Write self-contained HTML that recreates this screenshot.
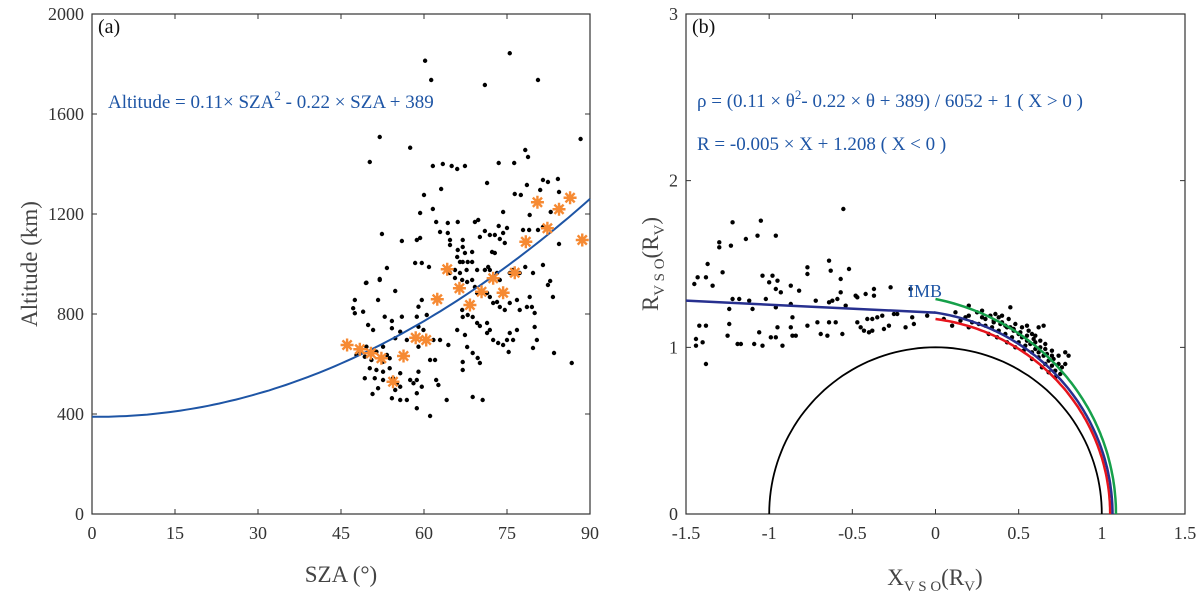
<!DOCTYPE html>
<html><head><meta charset="utf-8"><style>
body{margin:0;background:#fff}
svg{display:block;font-family:"Liberation Serif",serif}
</style></head><body>
<svg id="chart" width="1200" height="600" viewBox="0 0 1200 600">
<g id="pa"></g>
<g id="pb"></g>
</svg>
<script>
// Panel (a) data: [SZA deg, altitude km]
const aDots = [[60.2,1813],[61.3,1736],[75.5,1843],[80.6,1736],[71.0,1716],[52.0,1508],[57.5,1465],[50.2,1408],[88.3,1500],[78.3,1456],[78.8,1428],
[61.6,1392],[63.4,1400],[65,1392],[66,1380],[67.4,1392],[73.5,1404],[76.3,1404],[60,1276],[63.1,1300],[71.4,1324],[78.6,1316],[81,1296],[81.5,1336],[82.4,1328],[84.2,1340],[84.4,1288],[76.4,1280],[77.5,1276],
[59.3,1204],[61.6,1220],[74.3,1208],[79.1,1196],[82.9,1208],[84.6,1224],[84.4,1080],[86.7,604],[83.5,644],
[62.2,1168],[64.3,1164],[66.1,1168],[69.2,1168],[69.8,1176],[71,1132],[71.9,1116],[72.8,1116],[73.5,1152],[74.3,1124],[75,1144],
[52.4,1120],[56,1092],[58.7,1096],[59.3,1104],[62.9,1128],[64.3,1124],[64.7,1096],[64.7,1076],[67,1096],[67,1068],[77.9,1136],[79,1136],[80.6,1136],[81.5,1148],
[66.1,1056],[67.4,1044],[68.7,1048],[66,1028],[66.5,1008],[67,1008],[67.9,1008],[68.7,1008],[65.6,976],[67.7,976],[69.6,976],[72.3,1048],[72.8,1044],[73.7,1100],[74.6,1084],[70.1,1108],
[58.4,1004],[59.6,1004],[60.9,988],[53.3,984],[52,940],[49.5,924],[54.8,892],
[71,976],[71.6,988],[71.9,976],[73.2,964],[73.7,936],[75.5,964],[76.1,976],[77.3,964],[78.3,988],[79.7,964],[81.5,996],[82.4,916],[82.8,932],[83.3,868],[79.1,868],[79.5,828],[80,804],[80,748],[80.4,696],[79.7,664],
[64.7,964],[65.6,944],[66.5,964],[66.9,936],[67.8,928],[68.7,936],[69.2,908],[69.6,884],[70.5,884],[71.4,884],[71.9,868],[72.5,844],[73.2,848],[73.7,828],[74.6,816],[75.5,844],[76.8,856],[77.3,816],[78.6,828],
[66.9,816],[67,788],[67.9,796],[68.8,788],[69.6,764],[70.1,752],[71.4,764],[71.9,736],[71.4,724],[72.5,696],[73.4,684],[74.3,676],[75,696],[75.5,724],[76.1,696],[76.8,736],[75.3,648],
[66,736],[67.4,716],[67.8,668],[67,608],[68.8,644],[69.7,624],[70.1,604],[67,576],[68.8,468],[70.6,456],[64.1,456],[61.1,392],[62.2,536],[62.6,516],
[47.2,823],[47.5,803],[49.0,809],[47.5,856],[49.6,925],[51.7,856],[52.0,936],[52.9,789],[49.9,756],[50.8,736],[54.2,772],[54.2,743],[55.7,729],[56.0,789],[54.8,703],[58.7,789],[60.5,796],[59.0,829],[59.6,856],[59.0,749],[59.9,736],[61.7,696],[62.9,696],[61.1,616],[62.0,616],[64.4,676],[59.0,669],[56.9,696],[52.6,669],[51.4,649],[53.3,636],[49.6,669],[48.4,649],[49.3,629],[47.8,636],[50.5,616],[52.6,609],[53.8,623],[51.4,576],[52.6,569],[50.2,583],[51.1,543],[52.6,536],[53.8,583],[54.4,543],[55.1,523],[55.7,509],[54.8,496],[55.7,456],[54.2,463],[56.9,456],[58.7,483],[58.1,523],[58.7,536],[57.5,536],[59.6,509],[51.7,503],[50.7,480],[49.3,543],[55.7,563],[59.0,569],[58.7,423]];
const aStars = [[46.1,676],[48.4,659],[50.4,643],[52.3,623],[54.4,529],[56.3,632],[58.5,705],[60.4,696],[62.4,859],[64.2,979],[66.4,903],[68.3,836],[70.4,889],[72.5,943],[74.3,885],[76.4,965],[78.4,1089],[80.5,1247],[82.3,1143],[84.4,1219],[86.4,1265],[88.6,1096]];
const aXTicks = [0,15,30,45,60,75,90];
const aYTicks = [0,400,800,1200,1600,2000];
const fitCoef = [0.11,-0.22,389];
// Panel (b) data: [X, R]
const bDots = [[-0.554,1.83],[-1.05,1.76],[-1.14,1.65],[-0.96,1.67],[-1.30,1.60],[-1.23,1.61],[-1.28,1.45],[-1.37,1.50],[-1.45,1.38],[-1.43,1.42],[-1.38,1.42],[-1.34,1.37],[-1.04,1.43],[-0.98,1.43],[-1.00,1.39],[-0.95,1.40],[-0.96,1.35],[-0.93,1.33],[-0.87,1.37],[-0.82,1.34],[-0.77,1.48],[-0.77,1.44],[-0.64,1.52],[-0.63,1.46],[-0.52,1.47],[-0.57,1.41],[-0.57,1.33],
[-1.22,1.29],[-1.18,1.29],[-1.12,1.28],[-1.24,1.23],[-1.10,1.23],[-1.02,1.29],[-0.96,1.24],[-0.87,1.26],[-0.86,1.18],[-0.77,1.13],[-0.72,1.28],[-0.71,1.15],[-0.64,1.15],[-0.64,1.27],[-0.62,1.28],[-0.59,1.29],[-0.54,1.25],[-0.48,1.31],[-0.47,1.30],[-0.42,1.32],[-0.37,1.35],[-0.37,1.31],[-0.27,1.36],[-0.15,1.35],
[-1.42,1.13],[-1.38,1.13],[-1.44,1.05],[-1.44,1.01],[-1.40,1.03],[-1.38,0.90],[-1.25,1.07],[-1.24,1.14],[-1.19,1.02],[-1.17,1.02],[-1.09,1.02],[-1.04,1.01],[-1.06,1.09],[-0.99,1.06],[-0.96,1.06],[-0.95,1.12],[-0.92,1.01],[-0.87,1.12],[-0.86,1.07],[-0.84,1.07],[-0.69,1.08],[-0.65,1.07],[-0.60,1.15],[-0.56,1.08],[-0.47,1.15],[-0.45,1.12],[-0.43,1.10],[-0.40,1.09],[-0.38,1.10],[-0.41,1.17],[-0.38,1.17],[-0.35,1.18],[-0.32,1.19],[-0.31,1.11],[-0.28,1.13],[-0.25,1.20],[-0.23,1.20],[-0.18,1.12],[-0.13,1.14],[-0.14,1.18],[-0.05,1.19],[-1.22,1.75],[-1.07,1.67],[-1.30,1.63],
[0.05,1.17],[0.12,1.21],[0.2,1.19],[0.25,1.21],[0.28,1.22],[0.3,1.17],[0.33,1.19],[0.35,1.16],[0.38,1.18],[0.4,1.15],[0.42,1.13],[0.45,1.12],[0.47,1.10],[0.5,1.08],[0.52,1.06],[0.55,1.04],[0.57,1.02],[0.6,0.99],[0.62,0.97],[0.65,0.95],[0.68,0.92],[0.7,0.89],[0.72,0.86],[0.75,0.84],[0.22,1.15],[0.26,1.14],[0.3,1.13],[0.34,1.12],[0.38,1.10],[0.42,1.08],[0.46,1.06],[0.5,1.03],[0.54,1.01],[0.58,0.97],[0.62,0.94],[0.66,0.9],[0.15,1.16],[0.18,1.18],[0.28,1.18],[0.36,1.20],[0.4,1.19],[0.44,1.17],[0.48,1.14],[0.52,1.12],[0.56,1.10],[0.6,1.07],[0.63,1.04],[0.66,1.02],[0.7,0.98],[0.74,0.95],[0.78,0.9],[0.8,0.95],[0.78,0.97],[0.55,1.13],[0.62,1.12],[0.65,1.13],[0.45,1.24],[0.2,1.25],[0.1,1.13],[0.2,1.12],[0.32,1.08],[0.37,1.06],[0.43,1.03],[0.48,1.0],[0.53,0.98],[0.58,0.93],[0.64,0.88],[0.68,0.85],[0.72,0.82],[0.76,0.88],[0.35,1.15],[0.39,1.14],[0.43,1.12],[0.47,1.11],[0.51,1.09],[0.55,1.07],[0.59,1.05],[0.63,1.0],[0.67,0.96],[0.71,0.93],[0.74,0.9],[0.58,1.08],[0.6,1.03],[0.66,0.99],[0.7,0.95]];
const bXTicks = [-1.5,-1,-0.5,0,0.5,1,1.5];
const bXLabels = ["-1.5","-1","-0.5","0","0.5","1","1.5"];
const bYTicks = [0,1,2,3];
const tailLine = [[-1.5,1.28],[0,1.208]];
const redEnds = [1.05,1.17];
const greenEnds = [1.085,1.29];

const NS='http://www.w3.org/2000/svg';
function mk(parent,tag,attrs,text){const e=document.createElementNS(NS,tag);for(const k in attrs)e.setAttribute(k,attrs[k]);if(text!==undefined)e.textContent=text;parent.appendChild(e);return e;}

// ---------- Panel a ----------
const pa=document.getElementById('pa');
const aL=92,aR=590,aT=14,aB=514;
const ax=v=>aL+(v-0)/90*(aR-aL);
const ay=v=>aB-(v-0)/2000*(aB-aT);
let fr=mk(pa,'rect',{x:aL,y:aT,width:aR-aL,height:aB-aT,fill:'none',stroke:'#333','stroke-width':1.2});


aXTicks.forEach(t=>{
  let l=mk(pa,'path',{d:`M${ax(t)},${aB}v-5M${ax(t)},${aT}v5`,stroke:'#333','stroke-width':1});
  
  
  let tx=mk(pa,'text',{x:ax(t),y:aB+25,'font-size':18,'text-anchor':'middle',fill:'#333'},String(t));
  
  
});
aYTicks.forEach(t=>{
  let l=mk(pa,'path',{d:`M${aL},${ay(t)}h5M${aR},${ay(t)}h-5`,stroke:'#333','stroke-width':1});
  
  
  let tx=mk(pa,'text',{x:aL-8,y:ay(t)+6,'font-size':18,'text-anchor':'end',fill:'#333'},String(t));
  
  
});
aDots.forEach(p=>{
  let c=mk(pa,'circle',{cx:ax(p[0]),cy:ay(p[1]),r:2.2,fill:'#000'});
  
  
});
let d='';
for(let s=0;s<=90;s+=1){const v=fitCoef[0]*s*s+fitCoef[1]*s+fitCoef[2];d+=(s?'L':'M')+ax(s).toFixed(1)+','+ay(v).toFixed(1);}
let fit=mk(pa,'path',{d:d,fill:'none',stroke:'#1e55a5','stroke-width':2});


aStars.forEach(p=>{
  const x=ax(p[0]),y=ay(p[1]),r=6.5;let dd='';
  for(let k=0;k<4;k++){const a=k*Math.PI/4;dd+=`M${x-r*Math.cos(a)},${y-r*Math.sin(a)}L${x+r*Math.cos(a)},${y+r*Math.sin(a)}`;}
  let st=mk(pa,'path',{d:dd,stroke:'#f68a33','stroke-width':2.4});
  
  
});
let t1=mk(pa,'text',{x:98,y:33,'font-size':20,fill:'#111'},'(a)');


let eq=mk(pa,'text',{x:108,y:108,'font-size':19,fill:'#1e55a5'});
eq.innerHTML='Altitude = 0.11× SZA<tspan dy="-8" font-size="13">2</tspan><tspan dy="8"> - 0.22 × SZA + 389</tspan>';


let xt=mk(pa,'text',{x:341,y:582,'font-size':23,'text-anchor':'middle',fill:'#444'},'SZA (°)');


let yt=mk(pa,'text',{x:0,y:0,'font-size':23,'text-anchor':'middle',fill:'#444',transform:'translate(37,264) rotate(-90)'},'Altitude (km)');



// ---------- Panel b ----------
const pb=document.getElementById('pb');
const bL=686,bR=1185,bT=14,bB=514;
const bx=v=>bL+(v+1.5)/3*(bR-bL);
const by=v=>bB-v/3*(bB-bT);
let fr2=mk(pb,'rect',{x:bL,y:bT,width:bR-bL,height:bB-bT,fill:'none',stroke:'#333','stroke-width':1.2});


bXTicks.forEach((t,i)=>{
  let l=mk(pb,'path',{d:`M${bx(t)},${bB}v-5M${bx(t)},${bT}v5`,stroke:'#333','stroke-width':1});
  
  
  let tx=mk(pb,'text',{x:bx(t),y:bB+25,'font-size':18,'text-anchor':'middle',fill:'#333'},bXLabels[i]);
  
  
});
bYTicks.forEach(t=>{
  let l=mk(pb,'path',{d:`M${bL},${by(t)}h5M${bR},${by(t)}h-5`,stroke:'#333','stroke-width':1});
  
  
  let tx=mk(pb,'text',{x:bL-8,y:by(t)+6,'font-size':18,'text-anchor':'end',fill:'#333'},String(t));
  
  
});
let cd='';for(let a=0;a<=180;a+=2){const r=a*Math.PI/180;cd+=(a?'L':'M')+bx(Math.cos(r)).toFixed(1)+','+by(Math.sin(r)).toFixed(1);}
let pl=mk(pb,'path',{d:cd,fill:'none',stroke:'#000','stroke-width':1.8});


bDots.forEach(p=>{
  let c=mk(pb,'circle',{cx:bx(p[0]),cy:by(p[1]),r:2.2,fill:'#000'});
  
  
});
function arc(r0,r90){let s='';for(let th=90;th>=0;th-=1){const f=th/90,rho=r0+(r90-r0)*f*f,a=th*Math.PI/180;s+=(th==90?'M':'L')+bx(rho*Math.cos(a)).toFixed(1)+','+by(rho*Math.sin(a)).toFixed(1);}return s;}
let gr=mk(pb,'path',{d:arc(greenEnds[0],greenEnds[1]),fill:'none',stroke:'#16a04a','stroke-width':2.5});


let rd=mk(pb,'path',{d:arc(redEnds[0],redEnds[1]),fill:'none',stroke:'#e6141c','stroke-width':2.5});


let bd='M'+bx(tailLine[0][0])+','+by(tailLine[0][1])+'L'+bx(tailLine[1][0])+','+by(tailLine[1][1]);
for(let th=90;th>=0;th-=1){const rho=(fitCoef[0]*th*th+fitCoef[1]*th+fitCoef[2])/6052+1,a=th*Math.PI/180;bd+='L'+bx(rho*Math.cos(a)).toFixed(1)+','+by(rho*Math.sin(a)).toFixed(1);}
let bl=mk(pb,'path',{d:bd,fill:'none',stroke:'#27308f','stroke-width':2.5});


let t2=mk(pb,'text',{x:692,y:33,'font-size':20,fill:'#111'},'(b)');


let e1=mk(pb,'text',{x:697,y:107,'font-size':19,fill:'#1e55a5'});
e1.innerHTML='ρ = (0.11 × θ<tspan dy="-8" font-size="13">2</tspan><tspan dy="8">- 0.22 × θ + 389) / 6052 + 1 ( X &gt; 0 )</tspan>';


let e2=mk(pb,'text',{x:697,y:150,'font-size':19,fill:'#1e55a5'},'R = -0.005 × X + 1.208  ( X < 0 )');


let imb=mk(pb,'text',{x:908,y:297,'font-size':18,fill:'#1e55a5'},'IMB');


let xt2=mk(pb,'text',{x:935,y:585,'font-size':23,'text-anchor':'middle',fill:'#444'});
xt2.innerHTML='X<tspan dy="6" font-size="15">V S O</tspan><tspan dy="-6">(R</tspan><tspan dy="6" font-size="15">V</tspan><tspan dy="-6">)</tspan>';


let yt2=mk(pb,'text',{x:0,y:0,'font-size':23,'text-anchor':'middle',fill:'#444',transform:'translate(658,264) rotate(-90)'});
yt2.innerHTML='R<tspan dy="6" font-size="15">V S O</tspan><tspan dy="-6">(R</tspan><tspan dy="6" font-size="15">V</tspan><tspan dy="-6">)</tspan>';


</script>
</body></html>
